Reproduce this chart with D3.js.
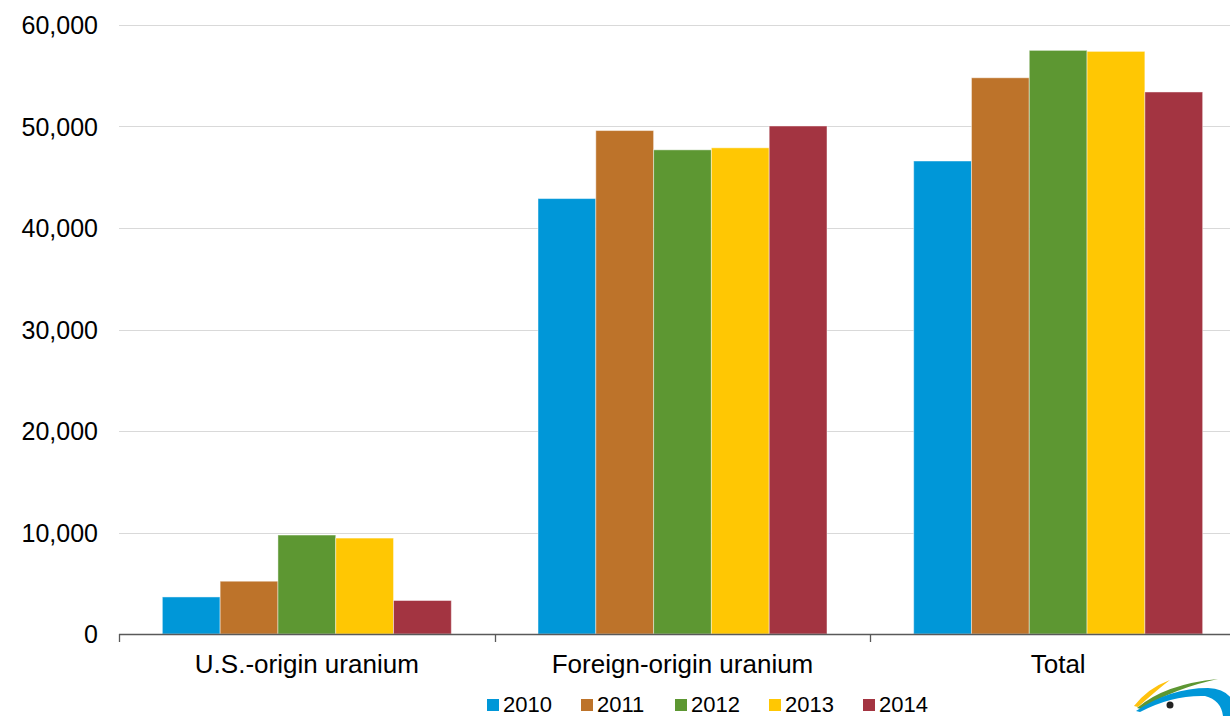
<!DOCTYPE html>
<html><head><meta charset="utf-8">
<script src="https://cdn.jsdelivr.net/npm/d3@7"></script>
<style>html,body{margin:0;padding:0;background:#fff;}svg{display:block;font-family:"Liberation Sans",Arial,sans-serif;}</style>
</head><body>
<svg id="c" width="1230" height="716"></svg>
<script>
const categories = ["U.S.-origin uranium", "Foreign-origin uranium", "Total"];
const years = ["2010", "2011", "2012", "2013", "2014"];
const colors = ["#0097D8", "#BD732A", "#5D9732", "#FFC703", "#A33441"];
const v2010 = [3650, 42900, 46600];
const v2011 = [5200, 49600, 54800];
const v2012 = [9750, 47700, 57500];
const v2013 = [9450, 47900, 57400];
const v2014 = [3300, 50050, 53400];
const yTicks = [0, 10000, 20000, 30000, 40000, 50000, 60000];

(function(){
const series = [v2010, v2011, v2012, v2013, v2014];
const svg = d3.select("#c");
const pl = 119, pr = 1246, pt = 25, pb = 634;

const y = d3.scaleLinear().domain([0, 60000]).range([pb, pt]);
const x0 = d3.scaleBand().domain(categories).range([pl, pr]).paddingInner(0).paddingOuter(0);
const x1 = d3.scaleBand().domain(years).range([0, x0.bandwidth()]).paddingInner(0).paddingOuter(0.75);

// gridlines
svg.append("g").selectAll("line").data(yTicks.filter(d => d > 0)).join("line")
  .attr("x1", pl).attr("x2", 1230)
  .attr("y1", d => Math.round(y(d)) + 0.5).attr("y2", d => Math.round(y(d)) + 0.5)
  .attr("stroke", "#d9d9d9").attr("stroke-width", 1);

// y labels
svg.append("g").selectAll("text").data(yTicks).join("text")
  .attr("x", 98).attr("y", d => y(d) + 9)
  .attr("text-anchor", "end").attr("font-size", 25).attr("fill", "#000")
  .text(d => d3.format(",")(d));

// bars
const g = svg.append("g");
categories.forEach((c, ci) => {
  series.forEach((s, si) => {
    g.append("rect")
      .attr("x", x0(c) + x1(years[si]))
      .attr("width", x1.bandwidth())
      .attr("y", y(s[ci]))
      .attr("height", pb - y(s[ci]))
      .attr("fill", colors[si])
      .attr("stroke", "#ffffff").attr("stroke-opacity", 0.45).attr("stroke-width", 1);
  });
});

// x axis
const xa = svg.append("g");
xa.append("line").attr("x1", pl).attr("x2", 1230).attr("y1", pb + 0.5).attr("y2", pb + 0.5)
  .attr("stroke", "#595959").attr("stroke-width", 1.3);
categories.forEach(c => {
  const xx = Math.round(x0(c)) + 0.5;
  xa.append("line").attr("x1", xx).attr("x2", xx).attr("y1", pb).attr("y2", pb + 8)
    .attr("stroke", "#595959").attr("stroke-width", 1.3);
});
xa.selectAll("text").data(categories).join("text")
  .attr("x", d => x0(d) + x0.bandwidth() / 2).attr("y", 673)
  .attr("text-anchor", "middle").attr("font-size", 26).attr("fill", "#000")
  .text(d => d);

// legend
const lg = svg.append("g");
const legendX = d3.scaleBand().domain(years).range([487, 957]);
years.forEach((yr, i) => {
  lg.append("rect").attr("x", legendX(yr)).attr("y", 699).attr("width", 12).attr("height", 12).attr("fill", colors[i]);
  lg.append("text").attr("x", legendX(yr) + 16).attr("y", 712).attr("font-size", 22).attr("fill", "#000").text(yr);
});

// logo fragment
const lo = svg.append("g");
lo.append("path").attr("d", "M1134,706 Q1148,688 1170,680 Q1158,689 1138,707 Z").attr("fill", "#FFC20E");
lo.append("path").attr("d", "M1137,708 Q1165,684 1218,679 Q1175,688 1141,709 Z").attr("fill", "#5D9732");
lo.append("path").attr("d", "M1136,711 Q1170,688 1208,688 Q1228,689 1234,703 L1234,716 L1223,716 Q1221,700 1205,696 Q1172,695 1140,712 Z").attr("fill", "#0097D8");
lo.append("circle").attr("cx", 1170).attr("cy", 705).attr("r", 3.5).attr("fill", "#222");
})();
</script>
</body></html>
